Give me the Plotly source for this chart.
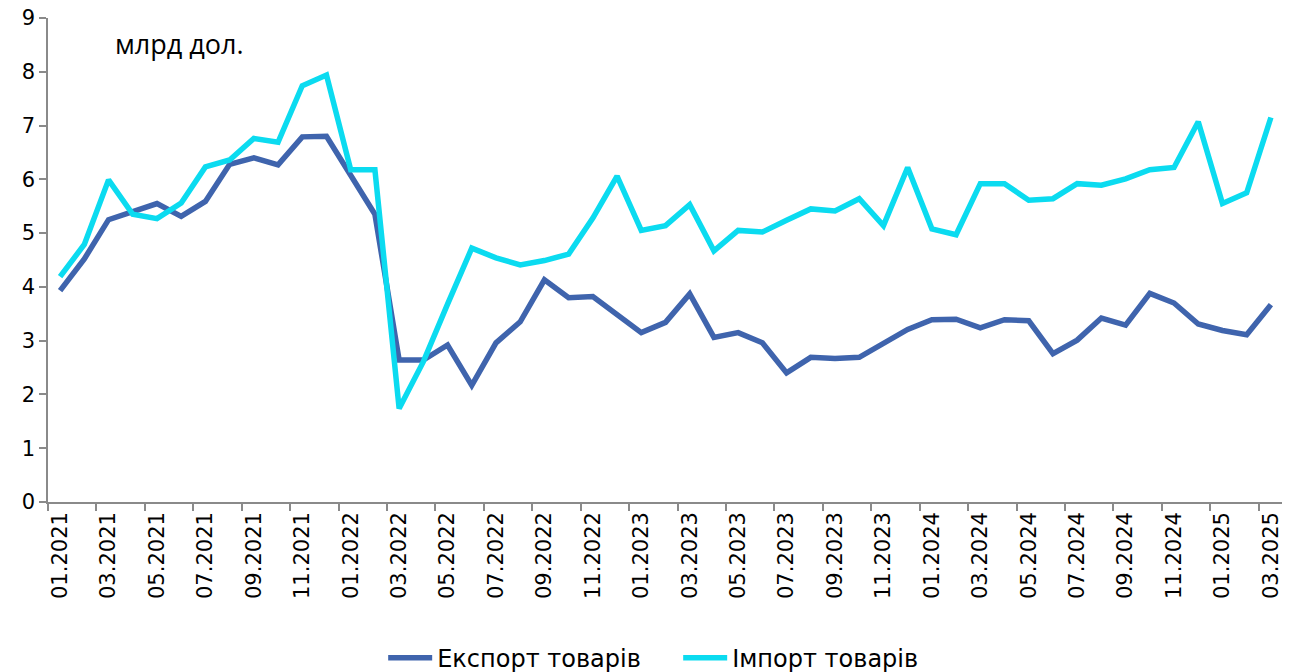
import plotly.graph_objects as go

months = [
    "01.2021", "02.2021", "03.2021", "04.2021", "05.2021", "06.2021",
    "07.2021", "08.2021", "09.2021", "10.2021", "11.2021", "12.2021",
    "01.2022", "02.2022", "03.2022", "04.2022", "05.2022", "06.2022",
    "07.2022", "08.2022", "09.2022", "10.2022", "11.2022", "12.2022",
    "01.2023", "02.2023", "03.2023", "04.2023", "05.2023", "06.2023",
    "07.2023", "08.2023", "09.2023", "10.2023", "11.2023", "12.2023",
    "01.2024", "02.2024", "03.2024", "04.2024", "05.2024", "06.2024",
    "07.2024", "08.2024", "09.2024", "10.2024", "11.2024", "12.2024",
    "01.2025", "02.2025", "03.2025",
]

export_goods = [
    3.93, 4.52, 5.25, 5.39, 5.55, 5.31, 5.59, 6.28, 6.40, 6.27, 6.79, 6.80,
    6.06, 5.35, 2.64, 2.64, 2.92, 2.17, 2.96, 3.35, 4.13, 3.80, 3.82, 3.48,
    3.15, 3.34, 3.87, 3.06, 3.15, 2.96, 2.40, 2.69, 2.67, 2.69, 2.96, 3.21,
    3.39, 3.40, 3.24, 3.39, 3.37, 2.76, 3.01, 3.42, 3.29, 3.88, 3.70, 3.31,
    3.19, 3.11, 3.67,
]

import_goods = [
    4.19, 4.79, 5.99, 5.35, 5.27, 5.56, 6.23, 6.36, 6.76, 6.69, 7.74, 7.94,
    6.18, 6.18, 1.74, 2.61, 3.68, 4.72, 4.54, 4.41, 4.49, 4.61, 5.28, 6.06,
    5.05, 5.14, 5.53, 4.67, 5.05, 5.02, 5.24, 5.45, 5.41, 5.64, 5.14, 6.22,
    5.08, 4.97, 5.92, 5.92, 5.61, 5.64, 5.92, 5.89, 6.01, 6.18, 6.22, 7.07,
    5.55, 5.75, 7.15,
]

series_names = ["Експорт товарів", "Імпорт товарів"]
unit_label = "млрд дол."

font_main = "DejaVu Sans"
axis_col = "#8a8a8a"

fig = go.Figure()
fig.add_trace(go.Scatter(
    x=months, y=export_goods, mode="lines", name=series_names[0],
    line=dict(color="#3F64AD", width=5.5),
))
fig.add_trace(go.Scatter(
    x=months, y=import_goods, mode="lines", name=series_names[1],
    line=dict(color="#0BDBF0", width=5.5),
))

fig.update_layout(
    width=1282, height=664,
    margin=dict(l=40, r=7, t=10, b=170, autoexpand=False),
    paper_bgcolor="white", plot_bgcolor="white",
    font=dict(family=font_main, size=21, color="#000000"),
    showlegend=True,
    legend=dict(
        orientation="h", xanchor="left", x=0.2714,
        yref="container", y=0.021, yanchor="middle",
        font=dict(family=font_main, size=24),
        tracegroupgap=0, itemwidth=44,
        entrywidth=236, entrywidthmode="pixels",
    ),
    xaxis=dict(
        type="category", range=[-0.5, len(months) - 0.5],
        tickmode="linear", tick0=0, dtick=2,
        tickson="boundaries", ticks="outside", ticklen=7,
        tickcolor=axis_col, tickwidth=1.5,
        showline=True, linecolor=axis_col, linewidth=1.5,
        showgrid=False, tickangle=-90, automargin=False,
        tickfont=dict(family=font_main, size=21),
        ticklabeloverflow="allow",
    ),
    yaxis=dict(
        range=[0, 9], tickmode="linear", tick0=0, dtick=1,
        ticks="outside", ticklen=7, tickcolor=axis_col, tickwidth=1.5,
        showline=True, linecolor=axis_col, linewidth=1.5,
        showgrid=False, zeroline=False, automargin=False,
        tickfont=dict(family=font_main, size=21),
        ticklabeloverflow="allow",
    ),
    annotations=[dict(
        text=unit_label, xref="paper", yref="paper",
        x=0.053, y=0.948, xanchor="left", yanchor="middle",
        showarrow=False, font=dict(family="Open Sans", size=27),
    )],
)

fig.write_html("out.html")
